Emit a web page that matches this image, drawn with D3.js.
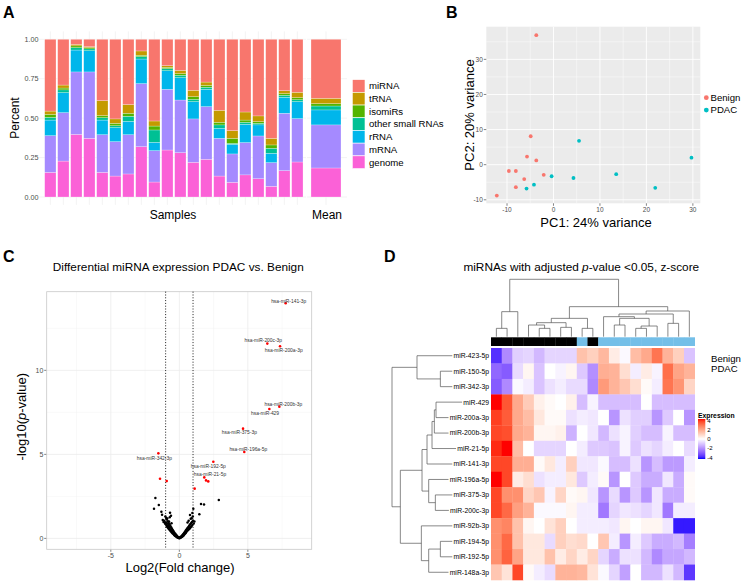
<!DOCTYPE html>
<html><head><meta charset="utf-8">
<script src="https://cdn.jsdelivr.net/npm/d3@7"></script>
<style>body{margin:0;background:#fff}svg{font-family:"Liberation Sans",Arial,Helvetica,sans-serif}</style>
</head><body><svg id="c" width="744" height="584"></svg>
<script>
// ================= DATA =================
// Panel A: read composition fractions per sample
const samples=["S1","S2","S3","S4","S5","S6","S7","S8","S9","S10","S11","S12","S13","S14","S15","S16","S17","S18","S19","S20"];
const rnaTypes=["miRNA","tRNA","isomiRs","other small RNAs","rRNA","mRNA","genome"];
const rnaColors=["#F8766D","#C49A00","#53B400","#00C094","#00B6EB","#A58AFF","#FB61D7"];
const genomeFrac=[0.156,0.228,0.397,0.372,0.156,0.133,0.146,0.319,0.095,0.298,0.281,0.220,0.239,0.133,0.093,0.140,0.116,0.068,0.167,0.222];
const mRNAFrac=[0.233,0.307,0.396,0.421,0.239,0.218,0.249,0.400,0.199,0.385,0.334,0.275,0.334,0.239,0.180,0.205,0.271,0.150,0.364,0.275];
const rRNAFrac=[0.099,0.127,0.139,0.135,0.093,0.089,0.085,0.156,0.053,0.118,0.142,0.110,0.110,0.064,0.061,0.116,0.070,0.059,0.101,0.108];
const otherFrac=[0.017,0.017,0.015,0.011,0.015,0.012,0.032,0.015,0.078,0.013,0.015,0.014,0.013,0.021,0.006,0.013,0.010,0.032,0.013,0.012];
const isomiRFrac=[0.019,0.012,0.011,0.008,0.013,0.015,0.019,0.009,0.025,0.008,0.010,0.017,0.012,0.017,0.032,0.014,0.011,0.021,0.010,0.013];
const tRNAFrac=[0.021,0.019,0.010,0.006,0.095,0.028,0.055,0.027,0.032,0.011,0.021,0.041,0.021,0.076,0.049,0.051,0.036,0.042,0.019,0.034];
const miRNAFrac=[0.455,0.290,0.032,0.047,0.389,0.505,0.414,0.074,0.518,0.167,0.197,0.323,0.271,0.450,0.579,0.461,0.486,0.628,0.326,0.336];
const meanFrac=[0.374,0.034,0.015,0.025,0.095,0.273,0.184]; // same order as rnaTypes
const percentTicks=[0,0.25,0.5,0.75,1];

// Panel B: PCA
const pcaGroup=["Benign","Benign","Benign","Benign","Benign","Benign","Benign","Benign","Benign","Benign","PDAC","PDAC","PDAC","PDAC","PDAC","PDAC","PDAC","PDAC"];
const pc1=[-3.7,-4.9,-5.7,-3.7,-9.6,-8.1,-6.3,-2.1,-8.1,-12.2,5.5,29.7,13.5,-0.4,4.3,-4.2,-5.8,21.9];
const pc2=[36.9,8.1,2.3,1.2,-1.8,-1.8,-4.1,-2.9,-6.4,-8.8,6.8,2.0,-2.7,-3.3,-3.8,-5.7,-6.8,-6.6];
const pcaTicks=[-10,0,10,20,30];

// Panel C: volcano
const sigNames=["hsa-miR-141-3p","hsa-miR-200c-3p","hsa-miR-200a-3p","hsa-miR-200b-3p","hsa-miR-429","hsa-miR-375-3p","hsa-miR-196a-5p","hsa-miR-342-3p","hsa-miR-192-5p","hsa-miR-21-5p","","","","",""];
const sigLog2FC=[7.76,6.42,7.35,7.30,6.57,4.65,4.74,-1.53,2.48,1.82,1.95,2.11,-1.41,-0.92,1.12];
const sigNegLogP=[13.99,11.59,11.43,7.84,7.70,6.53,5.14,5.06,4.56,3.63,3.45,3.39,3.55,3.41,2.96];
const labelNudge=[[3,-2.3],[-4,-3.7],[3.7,3.7],[4,-2.7],[-4.3,4.7],[-3.7,4],[4,-3],[-4,5],[-5,4.3],[5.7,-3.3]];
const nsLog2FC=[-1.75,-1.50,-1.85,-1.31,-1.26,-0.68,-0.61,1.02,0.95,0.78,0.83,1.58,1.80,1.46,2.88,
 -1.21,-1.15,-1.10,-1.05,-1.02,-0.98,-0.95,-0.92,-0.90,-0.88,-0.86,-0.84,-0.82,-0.80,-0.78,-0.76,-0.74,-0.72,-0.70,-0.68,-0.66,-0.64,-0.62,-0.60,-0.58,-0.56,-0.54,-0.52,-0.50,-0.48,-0.46,-0.44,-0.42,-0.40,-0.38,-0.36,-0.34,-0.32,-0.30,-0.28,-0.26,-0.24,-0.22,-0.20,-0.18,-0.16,-0.14,-0.12,-0.10,-0.08,-0.06,-0.04,-0.02,0.00,
 0.02,0.04,0.06,0.08,0.10,0.12,0.14,0.16,0.18,0.20,0.22,0.24,0.26,0.28,0.30,0.32,0.34,0.36,0.38,0.40,0.42,0.44,0.46,0.48,0.50,0.52,0.55,0.58,0.60,0.63,0.66,0.70,0.72,0.76,0.78,0.82,0.85,0.88,0.92,0.95,1.00,1.05,1.10,
 -1.02,-0.96,-0.88,-0.75,-0.70,-0.57,0.90,0.98,0.68,0.60];
const nsNegLogP=[2.40,1.98,1.76,1.58,1.40,1.52,1.35,1.76,1.51,1.39,1.17,2.04,2.02,1.43,2.28,
 1.10,0.98,1.05,0.92,0.85,0.95,0.80,1.12,0.72,0.88,0.66,1.02,0.78,0.60,0.92,0.70,0.55,0.84,0.62,0.48,0.75,0.52,0.42,0.66,0.46,0.36,0.58,0.40,0.30,0.50,0.33,0.26,0.42,0.28,0.20,0.34,0.22,0.16,0.27,0.17,0.12,0.21,0.13,0.08,0.15,0.09,0.05,0.10,0.06,0.03,0.05,0.02,0.04,0.01,
 0.03,0.02,0.05,0.04,0.08,0.06,0.11,0.08,0.14,0.10,0.18,0.12,0.22,0.16,0.26,0.19,0.30,0.23,0.35,0.27,0.40,0.31,0.45,0.35,0.50,0.40,0.56,0.45,0.62,0.50,0.68,0.55,0.75,0.60,0.82,0.66,0.90,0.72,0.98,0.80,1.05,0.88,1.00,
 1.30,1.22,1.18,1.00,1.25,0.90,1.20,1.30,1.05,0.95];
const volcXTicks=[-5,0,5], volcYTicks=[0,5,10];

// Panel D: heatmap
const hmRows=["miR-423-5p","miR-150-5p","miR-342-3p","miR-429","miR-200a-3p","miR-200b-3p","miR-21-5p","miR-141-3p","miR-196a-5p","miR-375-3p","miR-200c-3p","miR-92b-3p","miR-194-5p","miR-192-5p","miR-148a-3p"];
const hmCols=["C1","C2","C3","C4","C5","C6","C7","C8","C9","C10","C11","C12","C13","C14","C15","C16","C17","C18","C19"];
const colGroup=["PDAC","PDAC","PDAC","PDAC","PDAC","PDAC","PDAC","PDAC","Benign","PDAC","Benign","Benign","Benign","Benign","Benign","Benign","Benign","Benign","Benign"];
const hmValues=[
 [-3.5,-2.0,-0.8,-0.7,-1.2,-0.7,-0.7,-0.7,1.3,1.0,1.5,0.4,-0.1,1.4,1.8,2.8,1.6,1.0,-1.0],
 [-2.6,-2.8,-0.6,0.2,-1.0,0.0,-0.2,0.2,-0.9,-1.9,1.7,1.6,0.7,-0.3,0.4,-0.2,2.9,1.9,1.6],
 [-2.8,-2.0,-0.1,-0.3,-1.0,-0.5,-0.3,-0.6,-0.6,-2.0,2.1,1.6,1.2,0.7,0.1,-0.3,2.8,2.2,0.9],
 [4.0,3.3,1.8,1.1,0.3,0.1,0.0,0.3,-1.1,-0.2,-1.1,-1.1,-1.1,-1.1,0.0,-1.1,-1.1,-1.1,-1.1],
 [3.6,3.2,1.8,1.4,0.5,0.1,0.1,-0.5,-0.3,-0.4,0.0,-1.8,-0.5,-0.8,-0.8,-1.8,-0.9,0.0,-1.8],
 [3.5,3.4,1.8,1.6,0.2,0.2,0.3,-1.3,0.0,-0.4,-1.2,-0.5,-0.2,-0.8,-1.1,-1.1,-0.2,-1.1,-1.1],
 [3.8,4.0,1.4,0.0,-0.7,-0.7,-0.7,0.0,-0.3,-0.9,-0.9,-1.0,-0.2,-0.9,-0.5,-0.7,-0.3,0.0,-0.6],
 [3.5,3.5,1.7,1.7,0.1,0.5,-0.3,1.0,-0.4,-0.4,-0.1,-1.1,-1.1,-0.5,-1.8,-1.1,-1.7,-1.7,-0.3],
 [4.0,3.5,0.4,0.7,-0.5,-0.3,-0.3,0.5,-0.9,-0.3,0.1,-1.8,0.0,-0.9,-1.4,-1.4,-0.4,-1.4,0.1],
 [3.5,2.3,2.3,0.9,1.2,-0.2,0.9,0.1,0.2,-0.4,-1.8,-0.6,-1.8,-0.9,-1.8,-0.4,-1.4,-1.4,0.1],
 [3.5,3.0,2.0,1.6,-0.1,-0.1,-0.1,0.2,-0.3,-0.3,-2.3,-0.7,-0.4,-0.5,-0.7,-0.4,-2.3,-0.3,-0.3],
 [2.3,2.5,1.3,0.2,0.0,0.6,1.0,0.0,-0.3,-0.3,-0.3,-0.4,0.2,0.0,0.2,0.2,-0.4,-3.8,-3.8],
 [2.3,3.0,1.3,0.5,0.5,-0.6,1.0,0.7,0.8,0.0,1.2,-0.3,-1.8,-0.3,-0.9,-1.4,-1.4,-1.2,-2.2],
 [2.3,3.1,1.9,0.5,0.5,1.3,0.4,0.9,0.4,0.9,-0.7,-1.4,-0.5,-0.5,-1.2,-2.0,-1.5,-1.5,-1.2],
 [1.2,0.6,3.5,0.1,-0.3,-0.6,1.6,1.6,1.5,0.6,-0.1,-0.7,-1.6,0.0,-1.2,-1.2,-0.5,-1.2,-3.4]
];
// dendrograms: [mergeHeight, left, right]; leaves are 0-based indices
const colTree=[172,[75,[25,0,1],2],[90,[55,[42,[35,3,[25,4,5]],[28,6,7]],[25,8,9]],[77,[68,[60,10,[55,[35,11,12],[32,[25,13,14],15]]],[40,16,17]],18]]];
const rowTree=[170,[95,0,[25,1,2]],[145,[80,[65,[50,[43,[38,3,4],5],6],7],[60,8,[40,9,10]]],[82,11,[60,[25,12,13],14]]]];
const legendTicks=[4,2,0,-2,-4];

// ================= DRAW =================
const svg=d3.select("#c");
function panelLetter(t,x,y){svg.append("text").attr("x",x).attr("y",y).attr("font-size",16).attr("font-weight","bold").text(t);}
const gray="#4D4D4D";

// ---------- Panel A ----------
panelLetter("A",3,18);
const gA=svg.append("g");
const yA=d3.scaleLinear().domain([0,1]).range([197,39.3]);
const xA=d3.scaleBand().domain(samples).range([43.85,303.85]).paddingInner(0.13).paddingOuter(0.065);
const xM=d3.scaleBand().domain(["Mean"]).range([306,346]).paddingInner(0.25).paddingOuter(0.125);
const panels=[[39,306],[307,347]];
panels.forEach(p=>{
  percentTicks.forEach(t=>gA.append("line").attr("x1",p[0]).attr("x2",p[1]).attr("y1",yA(t)).attr("y2",yA(t)).attr("stroke","#EBEBEB").attr("stroke-width",0.6));
});
samples.forEach(s=>gA.append("line").attr("x1",xA(s)+xA.bandwidth()/2).attr("x2",xA(s)+xA.bandwidth()/2).attr("y1",31.4).attr("y2",204.9).attr("stroke","#EBEBEB").attr("stroke-width",0.6));
gA.append("line").attr("x1",xM("Mean")+xM.bandwidth()/2).attr("x2",xM("Mean")+xM.bandwidth()/2).attr("y1",31.4).attr("y2",204.9).attr("stroke","#EBEBEB").attr("stroke-width",0.6);
const fracByType={"miRNA":miRNAFrac,"tRNA":tRNAFrac,"isomiRs":isomiRFrac,"other small RNAs":otherFrac,"rRNA":rRNAFrac,"mRNA":mRNAFrac,"genome":genomeFrac};
const rowsA=samples.map((s,i)=>{const o={id:s};rnaTypes.forEach(k=>o[k]=fracByType[k][i]);return o;});
const meanRow={id:"Mean"};rnaTypes.forEach((k,i)=>meanRow[k]=meanFrac[i]);
const stackKeys=rnaTypes.slice().reverse();
const colorA=d3.scaleOrdinal().domain(rnaTypes).range(rnaColors);
const stacked=d3.stack().keys(stackKeys)(rowsA.concat([meanRow]));
stacked.forEach(layer=>{
  gA.selectAll(null).data(layer).enter().append("rect")
   .attr("x",d=>d.data.id==="Mean"?xM("Mean"):xA(d.data.id))
   .attr("width",d=>d.data.id==="Mean"?xM.bandwidth():xA.bandwidth())
   .attr("y",d=>yA(d[1])).attr("height",d=>yA(d[0])-yA(d[1]))
   .attr("fill",colorA(layer.key)).attr("stroke","#fff").attr("stroke-width",0.25);
});
percentTicks.forEach(t=>gA.append("text").attr("x",38.5).attr("y",yA(t)).attr("dy","0.35em").attr("text-anchor","end").attr("font-size",7.2).attr("fill",gray).text(d3.format(".2f")(t)));
gA.append("text").attr("transform","translate(15,118) rotate(-90)").attr("text-anchor","middle").attr("dy","0.35em").attr("font-size",12).text("Percent");
gA.append("text").attr("x",173).attr("y",215).attr("text-anchor","middle").attr("dy","0.35em").attr("font-size",12).text("Samples");
gA.append("text").attr("x",327).attr("y",215).attr("text-anchor","middle").attr("dy","0.35em").attr("font-size",12).text("Mean");
rnaTypes.forEach((k,i)=>{
  const cy=86+i*12.7;
  gA.append("rect").attr("x",352.3).attr("y",cy-6.35).attr("width",12.7).attr("height",12.7).attr("fill",colorA(k)).attr("stroke","#fff").attr("stroke-width",0.6);
  gA.append("text").attr("x",369).attr("y",cy).attr("dy","0.35em").attr("font-size",9.6).text(k);
});

// ---------- Panel B ----------
panelLetter("B",446,18);
const gB=svg.append("g");
const xB=d3.scaleLinear().domain([-14.46,31.6]).range([486.3,700.3]);
const yB=d3.scaleLinear().domain([-11.0,39.3]).range([203.3,26.7]);
gB.append("rect").attr("x",486.3).attr("y",26.7).attr("width",214).attr("height",176.6).attr("fill","#EBEBEB");
[-5,5,15,25].forEach(t=>gB.append("line").attr("x1",xB(t)).attr("x2",xB(t)).attr("y1",26.7).attr("y2",203.3).attr("stroke","#fff").attr("stroke-width",0.45));
[-5,5,15,25,35].forEach(t=>gB.append("line").attr("y1",yB(t)).attr("y2",yB(t)).attr("x1",486.3).attr("x2",700.3).attr("stroke","#fff").attr("stroke-width",0.45));
pcaTicks.forEach(t=>{
  gB.append("line").attr("x1",xB(t)).attr("x2",xB(t)).attr("y1",26.7).attr("y2",203.3).attr("stroke","#fff").attr("stroke-width",0.9);
  gB.append("line").attr("y1",yB(t)).attr("y2",yB(t)).attr("x1",486.3).attr("x2",700.3).attr("stroke","#fff").attr("stroke-width",0.9);
  gB.append("line").attr("x1",xB(t)).attr("x2",xB(t)).attr("y1",203.3).attr("y2",205.8).attr("stroke","#333").attr("stroke-width",0.6);
  gB.append("line").attr("y1",yB(t)).attr("y2",yB(t)).attr("x1",483.8).attr("x2",486.3).attr("stroke","#333").attr("stroke-width",0.6);
  gB.append("text").attr("x",xB(t)).attr("y",209.5).attr("text-anchor","middle").attr("font-size",6.5).attr("fill",gray).attr("dy","0.35em").text(t);
  gB.append("text").attr("x",482.8).attr("y",yB(t)).attr("text-anchor","end").attr("font-size",6.5).attr("fill",gray).attr("dy","0.35em").text(t);
});
const colorB=d3.scaleOrdinal().domain(["Benign","PDAC"]).range(["#F8766D","#00BFC4"]);
pc1.forEach((v,i)=>gB.append("circle").attr("cx",xB(v)).attr("cy",yB(pc2[i])).attr("r",1.9).attr("fill",colorB(pcaGroup[i])));
gB.append("text").attr("x",596).attr("y",222).attr("text-anchor","middle").attr("dy","0.35em").attr("font-size",13).text("PC1: 24% variance");
gB.append("text").attr("transform","translate(469,115) rotate(-90)").attr("text-anchor","middle").attr("dy","0.35em").attr("font-size",13).text("PC2: 20% variance");
["Benign","PDAC"].forEach((g,i)=>{
  gB.append("circle").attr("cx",706.3).attr("cy",97.7+i*12.4).attr("r",2.4).attr("fill",colorB(g));
  gB.append("text").attr("x",710.5).attr("y",97.7+i*12.4).attr("dy","0.35em").attr("font-size",9.6).text(g);
});

// ---------- Panel C ----------
panelLetter("C",3,262);
const gC=svg.append("g");
const xC=d3.scaleLinear().domain([-9.68,9.66]).range([46.7,311.7]);
const yC=d3.scaleLinear().domain([-0.65,14.68]).range([549.3,291.7]);
gC.append("text").attr("x",178.3).attr("y",267).attr("text-anchor","middle").attr("dy","0.35em").attr("font-size",11.8).text("Differential miRNA expression PDAC vs. Benign");
[-7.5,-2.5,2.5,7.5].forEach(t=>gC.append("line").attr("x1",xC(t)).attr("x2",xC(t)).attr("y1",291.7).attr("y2",549.3).attr("stroke","#F2F2F2").attr("stroke-width",0.5));
[2.5,7.5,12.5].forEach(t=>gC.append("line").attr("y1",yC(t)).attr("y2",yC(t)).attr("x1",46.7).attr("x2",311.7).attr("stroke","#F2F2F2").attr("stroke-width",0.5));
volcXTicks.forEach(t=>{
  gC.append("line").attr("x1",xC(t)).attr("x2",xC(t)).attr("y1",291.7).attr("y2",549.3).attr("stroke","#EBEBEB").attr("stroke-width",0.8);
  gC.append("line").attr("x1",xC(t)).attr("x2",xC(t)).attr("y1",549.3).attr("y2",551.8).attr("stroke","#333").attr("stroke-width",0.6);
  gC.append("text").attr("x",xC(t)).attr("y",556).attr("text-anchor","middle").attr("dy","0.35em").attr("font-size",7).attr("fill",gray).text(t);
});
volcYTicks.forEach(t=>{
  gC.append("line").attr("y1",yC(t)).attr("y2",yC(t)).attr("x1",46.7).attr("x2",311.7).attr("stroke","#EBEBEB").attr("stroke-width",0.8);
  gC.append("line").attr("y1",yC(t)).attr("y2",yC(t)).attr("x1",44.2).attr("x2",46.7).attr("stroke","#333").attr("stroke-width",0.6);
  gC.append("text").attr("x",43.3).attr("y",yC(t)).attr("text-anchor","end").attr("dy","0.35em").attr("font-size",7).attr("fill",gray).text(t);
});
gC.append("rect").attr("x",46.7).attr("y",291.7).attr("width",265).attr("height",257.6).attr("fill","none").attr("stroke","#C8C8C8").attr("stroke-width",0.8);
[-1,1].forEach(t=>gC.append("line").attr("x1",xC(t)).attr("x2",xC(t)).attr("y1",291.7).attr("y2",549.3).attr("stroke","#000").attr("stroke-width",0.9).attr("stroke-dasharray","1,1.8"));
nsLog2FC.forEach((v,i)=>gC.append("circle").attr("cx",xC(v)).attr("cy",yC(nsNegLogP[i])).attr("r",1.25).attr("fill","#000"));
sigLog2FC.forEach((v,i)=>gC.append("circle").attr("cx",xC(v)).attr("cy",yC(sigNegLogP[i])).attr("r",1.3).attr("fill","#FF0000"));
sigNames.forEach((n,i)=>{ if(!n) return;
  gC.append("text").attr("x",xC(sigLog2FC[i])+labelNudge[i][0]).attr("y",yC(sigNegLogP[i])+labelNudge[i][1]).attr("text-anchor","middle").attr("dy","0.35em").attr("font-size",4.9).attr("fill","#333").text(n);
});
gC.append("text").attr("x",180).attr("y",567).attr("text-anchor","middle").attr("dy","0.35em").attr("font-size",13).text("Log2(Fold change)");
const yl=gC.append("text").attr("transform","translate(21.7,416.7) rotate(-90)").attr("text-anchor","middle").attr("dy","0.35em").attr("font-size",13);
yl.append("tspan").text("-log10(");yl.append("tspan").attr("font-style","italic").text("p");yl.append("tspan").text("-value)");

// ---------- Panel D ----------
panelLetter("D",384,262);
const gD=svg.append("g");
const tl=gD.append("text").attr("x",581.3).attr("y",267).attr("text-anchor","middle").attr("dy","0.35em").attr("font-size",11.8);
tl.append("tspan").text("miRNAs with adjusted ");tl.append("tspan").attr("font-style","italic").text("p");tl.append("tspan").text("-value <0.05, z-score");
const xD=d3.scaleBand().domain(hmCols).range([491,694.7]);
const yD=d3.scaleBand().domain(hmRows).range([348,580]);
const colorD=d3.scaleLinear().domain([-4,0,4]).range(["#0000FF","#FFFFFF","#FF0000"]).interpolate(d3.interpolateLab).clamp(true);
hmValues.forEach((row,r)=>row.forEach((v,c)=>{
  gD.append("rect").attr("x",xD(hmCols[c])).attr("y",yD(hmRows[r])).attr("width",xD.bandwidth()+0.3).attr("height",yD.bandwidth()+0.3).attr("fill",colorD(v));
}));
const grpColor=d3.scaleOrdinal().domain(["PDAC","Benign"]).range(["#000000","#74BFE8"]);
hmCols.forEach((c,i)=>gD.append("rect").attr("x",xD(c)).attr("y",337.3).attr("width",xD.bandwidth()+0.3).attr("height",8.7).attr("fill",grpColor(colGroup[i])));
// column dendrogram
function layout(node,leafPos){
  if(typeof node==="number") return {p:leafPos(node),h:0,leaf:node};
  const a=layout(node[1],leafPos),b=layout(node[2],leafPos);
  return {p:(a.p+b.p)/2,h:node[0],kids:[a,b]};
}
const dStroke="#555";
const colRoot=layout(colTree,i=>xD(hmCols[i])+xD.bandwidth()/2);
const hY=d3.scaleLinear().domain([0,172]).range([336.7,279.3]);
(function drawC(n){ if(!n.kids) return;
  gD.append("line").attr("x1",n.kids[0].p).attr("x2",n.kids[1].p).attr("y1",hY(n.h)).attr("y2",hY(n.h)).attr("stroke",dStroke).attr("stroke-width",0.7);
  n.kids.forEach(k=>{gD.append("line").attr("x1",k.p).attr("x2",k.p).attr("y1",hY(k.h)).attr("y2",hY(n.h)).attr("stroke",dStroke).attr("stroke-width",0.7);drawC(k);});
})(colRoot);
// row labels
const labelStart=[];
hmRows.forEach((r,i)=>{
  const t=gD.append("text").attr("x",489).attr("y",yD(r)+yD.bandwidth()/2).attr("text-anchor","end").attr("dy","0.35em").attr("font-size",6.8).text(r);
  labelStart.push(489-t.node().getComputedTextLength());
});
const rowRoot=layout(rowTree,i=>yD(hmRows[i])+yD.bandwidth()/2);
const hX=d3.scaleLinear().domain([0,170]).range([448.7,392]);
(function drawR(n){ if(!n.kids) return;
  gD.append("line").attr("y1",n.kids[0].p).attr("y2",n.kids[1].p).attr("x1",hX(n.h)).attr("x2",hX(n.h)).attr("stroke",dStroke).attr("stroke-width",0.7);
  n.kids.forEach(k=>{
    const xe=k.kids?hX(k.h):labelStart[k.leaf]-1.2;
    gD.append("line").attr("y1",k.p).attr("y2",k.p).attr("x1",xe).attr("x2",hX(n.h)).attr("stroke",dStroke).attr("stroke-width",0.7);drawR(k);});
})(rowRoot);
// legends
gD.append("text").attr("x",711).attr("y",358.3).attr("dy","0.35em").attr("font-size",9.6).text("Benign");
gD.append("text").attr("x",711).attr("y",368.6).attr("dy","0.35em").attr("font-size",9.6).text("PDAC");
gD.append("text").attr("x",698).attr("y",415.5).attr("dy","0.35em").attr("font-size",6.8).attr("font-weight","bold").text("Expression");
const defs=svg.append("defs");
const lg=defs.append("linearGradient").attr("id","hmgrad").attr("x1",0).attr("x2",0).attr("y1",0).attr("y2",1);
d3.range(0,1.001,0.05).forEach(f=>lg.append("stop").attr("offset",f).attr("stop-color",colorD(4-8*f)));
const yLeg=d3.scaleLinear().domain([4,-4]).range([420.5,457.5]);
gD.append("rect").attr("x",698).attr("y",yLeg(4)-1.5).attr("width",7.3).attr("height",yLeg(-4)-yLeg(4)+3).attr("fill","url(#hmgrad)");
legendTicks.forEach(t=>{
  gD.append("text").attr("x",707.3).attr("y",yLeg(t)).attr("dy","0.35em").attr("font-size",6).text(t);
});
</script></body></html>
